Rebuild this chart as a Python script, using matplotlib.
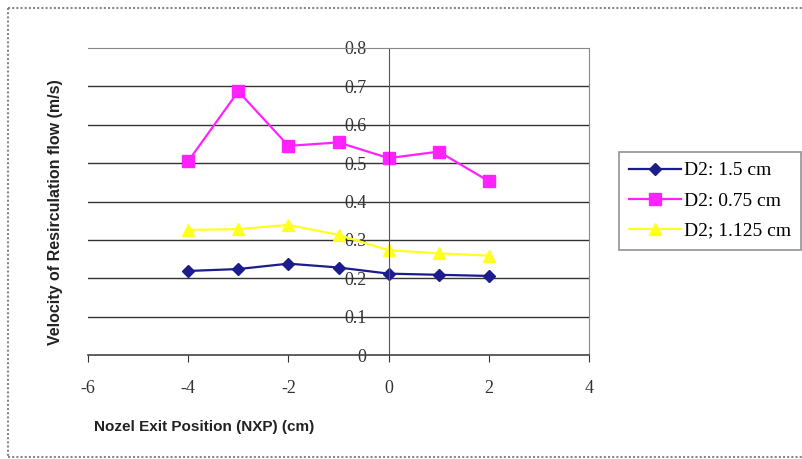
import matplotlib.pyplot as plt
from matplotlib.lines import Line2D

# data
nxp = [-4, -3, -2, -1, 0, 1, 2]
d2_15 = [0.219, 0.224, 0.238, 0.228, 0.212, 0.209, 0.206]
d2_075 = [0.505, 0.687, 0.545, 0.554, 0.513, 0.530, 0.453]
d2_1125 = [0.326, 0.328, 0.339, 0.313, 0.273, 0.265, 0.259]
labels = ["D2: 1.5 cm", "D2: 0.75 cm", "D2; 1.125 cm"]
x_ticks = [-6, -4, -2, 0, 2, 4]
y_ticks = [0, 0.1, 0.2, 0.3, 0.4, 0.5, 0.6, 0.7, 0.8]

W, H = 802, 459
serif = ["Liberation Serif", "DejaVu Serif"]
sans = ["Liberation Sans", "DejaVu Sans"]

fig = plt.figure(figsize=(W / 100, H / 100), dpi=100)
ax = fig.add_axes([88 / W, 1 - 355 / H, (589 - 88) / W, (355 - 48) / H])

# y axis crosses at x = 0 (set before the tick labels, it resets them)
ax.spines["left"].set_position(("data", 0))
ax.spines["left"].set_color("#555555")
ax.spines["right"].set_color("#888888")
ax.spines["top"].set_color("#888888")
ax.spines["bottom"].set_color("#444444")
ax.spines["bottom"].set_linewidth(1.2)

ax.plot(nxp, d2_15, color="#1c1c8c", marker="D", markersize=6, lw=1.6, label=labels[0])
ax.plot(nxp, d2_075, color="#ff22ff", marker="s", markersize=9, lw=1.6, label=labels[1])
ax.plot(nxp, d2_1125, color="#ffff20", marker="^", markersize=9, lw=1.6, label=labels[2])

ax.set_xlim(-6, 4)
ax.set_ylim(0, 0.8)
ax.set_xticks(x_ticks)
ax.set_yticks(y_ticks)
ax.set_xticklabels([str(v) for v in x_ticks], family=serif, fontsize=13)
ax.set_yticklabels(["0" if v == 0 else f"{v:.1f}" for v in y_ticks], family=serif, fontsize=13)
ax.tick_params(axis="y", length=0, pad=16, colors="#333333")
ax.tick_params(axis="x", length=5, pad=13, direction="out", colors="#333333")

for v in y_ticks[1:-1]:
    ax.axhline(v, color="#333333", lw=1.0, zorder=0)

fig.text(204 / W, 1 - 427 / H, "Nozel Exit Position (NXP) (cm)", family=sans,
         fontweight="bold", fontsize=11, ha="center", va="center", color="#222222")
fig.text(56 / W, 1 - 212 / H, "Velocity of Resirculation flow (m/s)", family=sans,
         fontweight="bold", fontsize=11.5, ha="center", va="center", rotation=90,
         color="#222222")

leg = fig.legend(loc="upper left", bbox_to_anchor=(619 / W, 1 - 152 / H),
                 prop={"family": serif, "size": 14}, fancybox=False,
                 handlelength=2.7, borderaxespad=0, labelspacing=0.65,
                 handletextpad=0.15, borderpad=0.5)
leg.get_frame().set_edgecolor("#777777")
leg.get_frame().set_linewidth(1.2)

# dotted frame around the picture (open on the right)
kw = dict(color="#888888", lw=1.5, ls=(0, (1, 1)), transform=fig.transFigure)
fig.add_artist(Line2D([8 / W, 8 / W], [1 - 8 / H, 1 - 457 / H], **kw))
fig.add_artist(Line2D([8 / W, 1], [1 - 8 / H, 1 - 8 / H], **kw))
fig.add_artist(Line2D([8 / W, 1], [1 - 457 / H, 1 - 457 / H], **kw))

fig.savefig("out.png", dpi=100)
